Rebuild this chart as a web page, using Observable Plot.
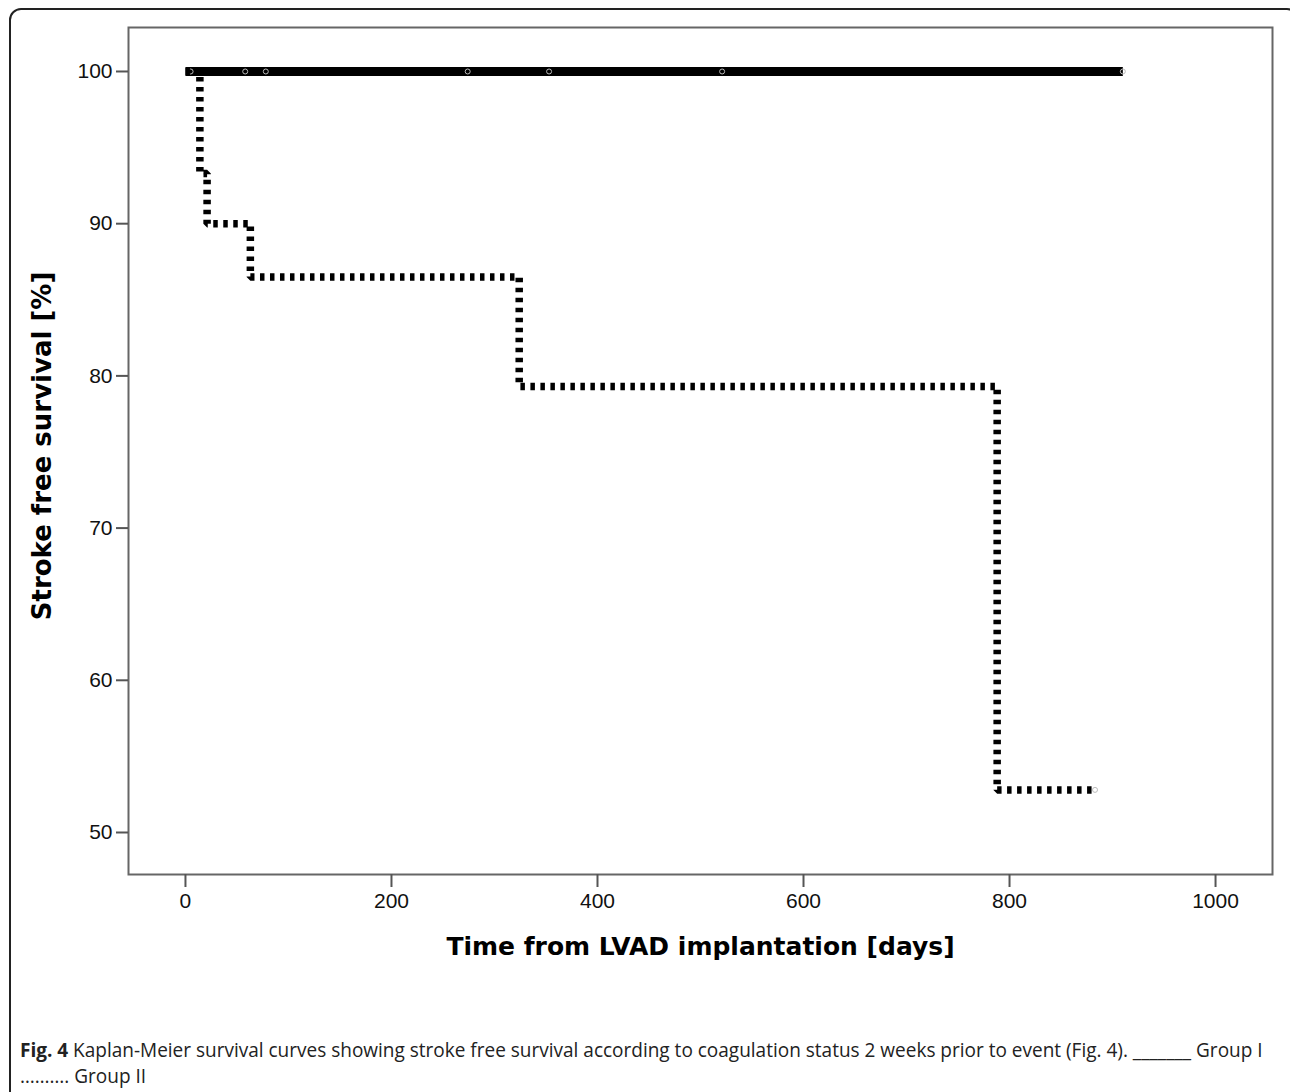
<!DOCTYPE html>
<html>
<head>
<meta charset="utf-8">
<script src="https://cdn.jsdelivr.net/npm/d3@7"></script>
<script src="https://cdn.jsdelivr.net/npm/@observablehq/plot@0.6"></script>
<style>
  html, body { margin: 0; padding: 0; background: #fff; width: 1290px; height: 1092px; overflow: hidden; }
  #border { position: absolute; left: 9px; top: 8px; width: 1290px; height: 1200px; border: 2px solid #222; border-radius: 12px; box-sizing: border-box; }
  #chart { position: absolute; left: 0; top: 0; }
  #caption { position: absolute; left: 20px; top: 1037px; width: 1400px; font-family: "Open Sans", sans-serif; font-size: 20px; line-height: 26px; color: #222; transform: scaleX(0.95); transform-origin: 0 0; white-space: nowrap; }
  #caption b { font-weight: bold; }
</style>
</head>
<body>
<div id="border"></div>
<div id="chart"></div>
<div id="caption"><b>Fig. 4</b> Kaplan-Meier survival curves showing stroke free survival according to coagulation status 2 weeks prior to event (Fig. 4). _______ Group I<br>………. Group II</div>
<script>
// Group I: no events, stroke-free 100% throughout
const groupIDays = [0, 910];
const groupISurv = [100, 100];
const groupICensorDays = [5, 58, 78, 274, 353, 521, 910];

// Group II: step function (Kaplan-Meier)
const groupIIDays = [0, 14, 21, 63, 324, 788, 883];
const groupIISurv = [100, 93.3, 90.0, 86.5, 79.3, 52.8, 52.8];
const groupIICensorDays = [883];

const xTicks = [0, 200, 400, 600, 800, 1000];
const yTicks = [50, 60, 70, 80, 90, 100];
const xTitle = "Time from LVAD implantation [days]";
const yTitle = "Stroke free survival [%]";

const g1 = groupIDays.map((d, i) => ({day: d, s: groupISurv[i]}));
const g2 = groupIIDays.map((d, i) => ({day: d, s: groupIISurv[i]}));
const g1c = groupICensorDays.map(d => ({day: d, s: 100}));
const g2c = groupIICensorDays.map(d => ({day: d, s: 52.8}));

const tickFont = "'Liberation Sans', Arial, sans-serif";
const titleFont = "'DejaVu Sans', Verdana, sans-serif";

const chart = Plot.plot({
  width: 1290,
  height: 1000,
  marginLeft: 128,
  marginRight: 18,
  marginTop: 27,
  marginBottom: 126,
  style: { background: "transparent", fontFamily: tickFont },
  x: { domain: [-55.3, 1055.3] },
  y: { domain: [47.24, 102.89] },
  marks: [
    Plot.frame({ stroke: "#666", strokeWidth: 2 }),
    Plot.axisX({ ticks: xTicks, tickFormat: d3.format("d"), tickSize: 13, tickPadding: 6, fontSize: 21, fontFamily: tickFont, label: null, stroke: "#555", strokeWidth: 2, color: "#111" }),
    Plot.axisY({ ticks: yTicks, tickFormat: d3.format("d"), tickSize: 12, tickPadding: 4, fontSize: 21, fontFamily: tickFont, label: null, stroke: "#555", strokeWidth: 2, color: "#111" }),
    Plot.text([xTitle], { frameAnchor: "bottom", dy: 80, fontSize: 25, fontWeight: "bold", fontFamily: titleFont, fill: "#000" }),
    Plot.text([yTitle], { frameAnchor: "left", dx: -86, dy: -5, rotate: -90, textAnchor: "middle", fontSize: 26, fontWeight: "bold", fontFamily: titleFont, fill: "#000" }),
    Plot.line(g1, { x: "day", y: "s", stroke: "#000", strokeWidth: 9, strokeLinecap: "butt", curve: "step-after" }),
    Plot.dot(g1c, { x: "day", y: "s", r: 2.5, stroke: "#bbb", strokeWidth: 1, fill: "none" }),
    Plot.line(g2, { x: "day", y: "s", stroke: "#000", strokeWidth: 7.5, strokeDasharray: "4.5,5.5", strokeLinecap: "butt", strokeLinejoin: "miter", curve: "step-after" }),
    Plot.dot(g2c, { x: "day", y: "s", r: 2.5, stroke: "#bbb", strokeWidth: 1, fill: "none" })
  ]
});
document.getElementById("chart").appendChild(chart);
</script>
</body>
</html>
